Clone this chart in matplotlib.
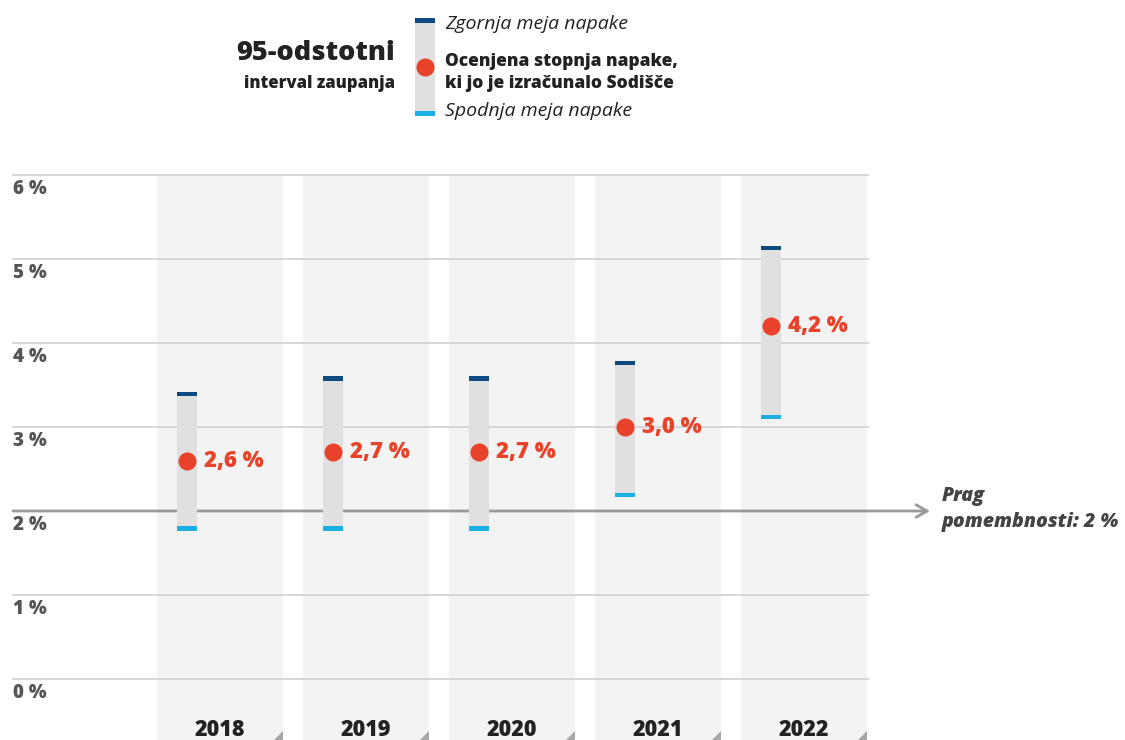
import matplotlib.pyplot as plt
from matplotlib.patches import Polygon
from matplotlib.transforms import offset_copy, blended_transform_factory

plt.rcParams['font.family'] = ['Open Sans', 'DejaVu Sans']

years = ['2018', '2019', '2020', '2021', '2022']
estimate = [2.6, 2.7, 2.7, 3.0, 4.2]
upper = [3.39, 3.58, 3.58, 3.76, 5.13]
lower = [1.79, 1.79, 1.79, 2.19, 3.12]
labels = ['2,6 %', '2,7 %', '2,7 %', '3,0 %', '4,2 %']
yticks = [0, 1, 2, 3, 4, 5, 6]
threshold = 2

RED = '#e8432a'
DARK_BLUE = '#0d4a80'
LIGHT_BLUE = '#1bb0e3'
WHISKER = '#e0e0e0'
COLUMN = '#f3f3f3'
BOLD = 'heavy'

W, H = 1125, 740
fig = plt.figure(figsize=(W / 100, H / 100), dpi=100)
ax = fig.add_axes([13 / W, 0, (868 - 13) / W, 565 / H])
px_x = 146.0   # pixels per category
px_y = 84.0    # pixels per percent
ax.set_xlim((13 - 220) / px_x, (868 - 220) / px_x)
ax.set_ylim(-(740 - 679) / px_y, 6.0)
ax.axis('off')

xs = list(range(len(years)))
col_w = 126 / px_x
y0, y1 = ax.get_ylim()

# background columns
ax.bar(xs, y1 - y0, bottom=y0, width=col_w, color=COLUMN, zorder=0)
for x in xs:
    r = x + col_w / 2
    tri = Polygon([(r, y0), (r, y0 + 9 / px_y), (r - 9 / px_x, y0)],
                  closed=True, color='#a8a8a8', lw=0, zorder=1)
    ax.add_patch(tri)

# gridlines
for t in yticks:
    if t == threshold:
        continue
    ax.axhline(t, color='#d6d6d6', lw=1.4, zorder=1, clip_on=False)

# threshold arrow
ax.annotate('', xy=(1.0 + 62 / 855, threshold), xytext=(0, threshold),
            xycoords=('axes fraction', 'data'),
            textcoords=('axes fraction', 'data'),
            arrowprops=dict(arrowstyle='->,head_length=0.8,head_width=0.45',
                            color='#9a9a9a', lw=2, shrinkA=0, shrinkB=0),
            zorder=2, annotation_clip=False)
ax.text(942 / W, (H - 496) / H, 'Prag', transform=fig.transFigure,
        fontsize=14, fontweight=BOLD, style='italic', color='#444444',
        va='center', ha='left')
ax.text(942 / W, (H - 522) / H, 'pomembnosti: 2 %', transform=fig.transFigure,
        fontsize=14, fontweight=BOLD, style='italic', color='#444444',
        va='center', ha='left')

# whiskers
dx = -0.225
wx = [x + dx for x in xs]
ww = 20 / px_x
cap = 4.5 / px_y
ax.bar(wx, [u - l for u, l in zip(upper, lower)], bottom=lower, width=ww,
       color=WHISKER, zorder=3)
ax.bar(wx, cap, bottom=[u - cap / 2 for u in upper], width=ww,
       color=DARK_BLUE, zorder=4)
ax.bar(wx, cap, bottom=[l - cap / 2 for l in lower], width=ww,
       color=LIGHT_BLUE, zorder=4)
ax.plot(wx, estimate, 'o', color=RED, ms=13, mec='none', zorder=5)
for x, v, lab in zip(wx, estimate, labels):
    ax.annotate(lab, (x, v), xytext=(12, 0), textcoords='offset points',
                color=RED, fontsize=16, fontweight=BOLD, va='center', ha='left',
                zorder=6)

# y labels
trans = offset_copy(blended_transform_factory(ax.transAxes, ax.transData),
                    fig=fig, x=0, y=-3, units='points')
for t in yticks:
    ax.text(0, t, f'{t} %', transform=trans, fontsize=13.5, fontweight=BOLD,
            color='#555555', va='top', ha='left')

# year labels
for x, yr in zip(xs, years):
    ax.text(x, y0 + 10 / px_y, yr, fontsize=15.5, fontweight=BOLD,
            color='#222222', ha='center', va='center', zorder=6)

# legend
ax.text(395 / W, (H - 53) / H, '95-odstotni', transform=fig.transFigure,
        fontsize=19.5, fontweight=BOLD, color='#222222', ha='right', va='center')
ax.text(395 / W, (H - 83) / H, 'interval zaupanja', transform=fig.transFigure,
        fontsize=12, fontweight=BOLD, color='#222222', ha='right', va='center')
lg = fig.add_axes([0, 0, 1, 1], zorder=-1)
lg.set_xlim(0, W)
lg.set_ylim(H, 0)
lg.axis('off')
lg.bar([425], [93], bottom=[20], width=20, color=WHISKER)
lg.bar([425], [4.5], bottom=[18], width=20, color=DARK_BLUE)
lg.bar([425], [4.5], bottom=[111], width=20, color=LIGHT_BLUE)
lg.plot([425], [67], 'o', color=RED, ms=13, mec='none')
lg.text(445, 24, 'Zgornja meja napake', fontsize=14, style='italic',
        color='#222222', ha='left', va='center')
lg.text(445, 61, 'Ocenjena stopnja napake,', fontsize=12.5, fontweight=BOLD,
        color='#222222', ha='left', va='center')
lg.text(445, 84, 'ki jo je izračunalo Sodišče', fontsize=12.5, fontweight=BOLD,
        color='#222222', ha='left', va='center')
lg.text(445, 111, 'Spodnja meja napake', fontsize=14, style='italic',
        color='#222222', ha='left', va='center')

fig.savefig('out.png', dpi=100)
